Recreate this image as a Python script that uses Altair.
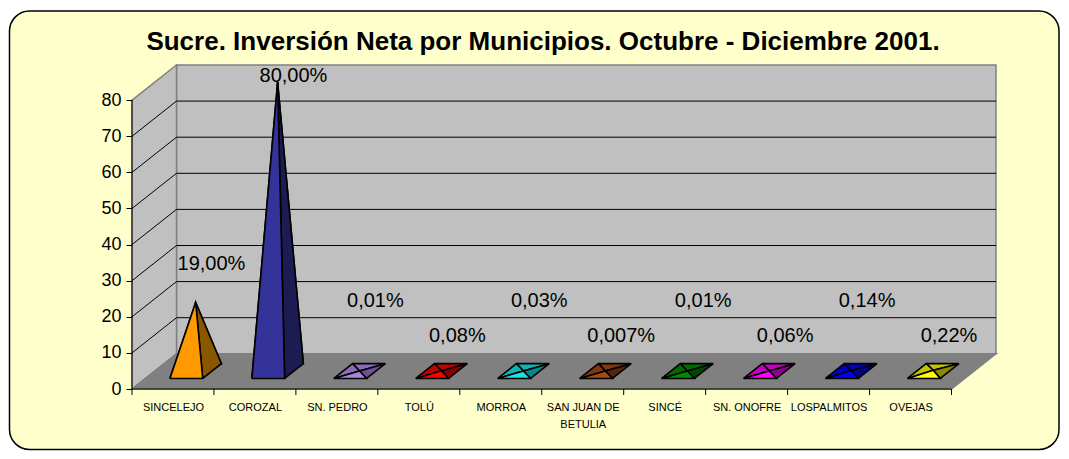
import json
import textwrap
import altair as alt
import pandas as pd

# ---------------- data ----------------
TITLE = "Sucre. Inversión Neta por Municipios. Octubre - Diciembre 2001."
CATEGORIES = ["SINCELEJO", "COROZAL", "SN. PEDRO", "TOLÚ", "MORROA",
              "SAN JUAN DE BETULIA", "SINCÉ", "SN. ONOFRE", "LOSPALMITOS", "OVEJAS"]
VALUES = [19.00, 80.00, 0.01, 0.08, 0.03, 0.007, 0.01, 0.06, 0.14, 0.22]
FRONT_COLORS = ["#FF9900", "#333399", "#A886E0", "#FF0000", "#1FE0E0",
                "#A84A12", "#008A00", "#FF00FF", "#0000FF", "#FFFF00"]
SIDE_COLORS = ["#8A5600", "#1C1C52", "#6E5096", "#8A0000", "#008A8A",
               "#5A2408", "#004A00", "#8A008A", "#00008A", "#8A8A00"]
Y_TICKS = [0, 10, 20, 30, 40, 50, 60, 70, 80]

# ---------------- style / geometry constants ----------------
N = len(CATEGORIES)
YMAX = Y_TICKS[-1]
DX, DY = 0.543, 9.75          # 3-D depth offset (category units, value units)
HALF, F1, F2 = 0.2, 0.3, 0.72  # pyramid half width, front / back depth fraction
LABEL_DX = 0.47
FONT = "Liberation Sans"
W, H = 864, 324

xs = alt.Scale(domain=[0, N + DX], nice=False, zero=False)
ys = alt.Scale(domain=[0, YMAX + DY], nice=False, zero=False)


def mix(c1, c2):
    a = [int(c1[k:k + 2], 16) for k in (1, 3, 5)]
    b = [int(c2[k:k + 2], 16) for k in (1, 3, 5)]
    return "#" + "".join(f"{(p + q) // 2:02X}" for p, q in zip(a, b))


def pct(v):
    s = f"{v:.3f}".rstrip("0")
    whole, frac = s.split(".")
    return f"{whole},{frac.ljust(2, '0')}%"


# walls and floor polygons
def poly(key, pts, fill, stroke):
    return [{"key": key, "ord": j, "x": x, "y": y, "fill": fill, "stroke": stroke}
            for j, (x, y) in enumerate(pts + [pts[0]])]


walls = []
walls += poly("w1_back", [(DX, DY), (N + DX, DY), (N + DX, YMAX + DY), (DX, YMAX + DY)], "#C0C0C0", "#808080")
walls += poly("w2_side", [(0, 0), (0, YMAX), (DX, YMAX + DY), (DX, DY)], "#C0C0C0", "#808080")
walls += poly("w3_floor", [(0, 0), (N, 0), (N + DX, DY), (DX, DY)], "#808080", "#808080")
walls_df = pd.DataFrame(walls)

# grid lines
grid_rows = []
for v in Y_TICKS[1:-1]:
    grid_rows.append({"x": DX, "x2": N + DX, "y": v + DY, "y2": v + DY})
    grid_rows.append({"x": 0, "x2": DX, "y": v, "y2": v + DY})
grid_df = pd.DataFrame(grid_rows)

# pyramids
pyr = []
for i, (v, fc, sc) in enumerate(zip(VALUES, FRONT_COLORS, SIDE_COLORS)):
    cx = i + 0.5

    def P(x, f, h=0.0):
        return (x + f * DX, f * DY + h)

    FL, FR = P(cx - HALF, F1), P(cx + HALF, F1)
    BL, BR = P(cx - HALF, F2), P(cx + HALF, F2)
    A = P(cx, (F1 + F2) / 2, v)
    mc = mix(fc, sc)
    faces = [("a", [BL, BR, A], mc), ("b", [FL, BL, A], mc),
             ("c", [FR, BR, A], sc), ("d", [FL, FR, A], fc)]
    for name, pts, col in faces:
        for j, (x, y) in enumerate(pts + [pts[0]]):
            pyr.append({"key": f"p{i:02d}{name}", "ord": j, "x": x, "y": y, "fill": col})
pyr_df = pd.DataFrame(pyr)

# data labels
lab_rows = []
for i, v in enumerate(VALUES):
    even = i % 2 == 0
    ly = max(v + (15.5 if even else 6.7), 24.5 if even else 14.8)
    lab_rows.append({"x": i + 0.5 + LABEL_DX, "y": ly, "label": pct(v)})
lab_df = pd.DataFrame(lab_rows)

# axis tick marks at category boundaries, axis lines
ticks_df = pd.DataFrame({"t": list(range(N + 1)), "y0": [0] * (N + 1)})
axis_lines_df = pd.DataFrame([
    {"x": 0, "x2": N, "y": 0, "y2": 0},
    {"x": 0, "x2": 0, "y": 0, "y2": YMAX},
])

disp = ["|".join(textwrap.wrap(c, 12)) for c in CATEGORIES]
label_expr = f"split({json.dumps(disp, ensure_ascii=False)}[floor(datum.value)], '|')"

x_axis = alt.Axis(values=[i + 0.5 for i in range(N)], labelExpr=label_expr, ticks=False,
                  domain=False, grid=False, labelFont=FONT, labelFontSize=11,
                  labelColor="black", labelPadding=12, labelLineHeight=17,
                  labelAngle=0, title=None, labelFlush=False, labelOverlap=False,
                  zindex=2)
y_axis = alt.Axis(values=Y_TICKS, tickSize=6, tickColor="black", tickWidth=1,
                  domain=False, grid=False, labelFont=FONT, labelFontSize=18,
                  labelColor="black", labelPadding=5, title=None, labelFlush=False,
                  zindex=2)


def X(field):
    return alt.X(field, scale=xs, axis=x_axis)


def Y(field):
    return alt.Y(field, scale=ys, axis=y_axis)


# ---------------- layers ----------------
frame = alt.Chart(pd.DataFrame({"a": [0]})).mark_rect(
    fill="#FFFFCC", stroke="black", strokeWidth=1.5, cornerRadius=20
).encode(x=alt.value(-122.5), x2=alt.value(927), y=alt.value(-54), y2=alt.value(384.5))

walls_layer = alt.Chart(walls_df).mark_line(strokeWidth=1.5).encode(
    x=X("x:Q"), y=Y("y:Q"),
    detail="key:N",
    order="ord:Q",
    fill=alt.Fill("fill:N", scale=None),
    stroke=alt.Stroke("stroke:N", scale=None),
)

grid_layer = alt.Chart(grid_df).mark_rule(color="black", strokeWidth=1).encode(
    x=X("x:Q"), x2="x2:Q", y=Y("y:Q"), y2="y2:Q",
)

axis_layer = alt.Chart(axis_lines_df).mark_rule(color="black", strokeWidth=1).encode(
    x=X("x:Q"), x2="x2:Q", y=Y("y:Q"), y2="y2:Q",
)

tick_layer = alt.Chart(ticks_df).mark_rule(color="black", strokeWidth=1).encode(
    x=X("t:Q"), y=Y("y0:Q"), y2=alt.value(H + 6),
)

pyr_layer = alt.Chart(pyr_df).mark_line(stroke="black", strokeWidth=1.6).encode(
    x=X("x:Q"), y=Y("y:Q"),
    detail="key:N",
    order="ord:Q",
    fill=alt.Fill("fill:N", scale=None),
)

label_layer = alt.Chart(lab_df).mark_text(
    font=FONT, fontSize=20, color="black", align="center", baseline="middle"
).encode(x=X("x:Q"), y=Y("y:Q"), text="label:N")

title_layer = alt.Chart(pd.DataFrame({"t": [TITLE]})).mark_text(
    font=FONT, fontSize=26, fontWeight="bold", color="black",
    align="center", baseline="alphabetic"
).encode(x=alt.value(411), y=alt.value(-15), text="t:N")

chart = alt.layer(
    frame, walls_layer, grid_layer, axis_layer, tick_layer, pyr_layer, label_layer, title_layer
).properties(
    width=W, height=H,
    autosize=alt.AutoSizeParams(type="none"),
    padding={"left": 124, "top": 57, "right": 65, "bottom": 62},
).configure_view(stroke=None).configure(background="white")

chart.save("out.html", embed_options={"renderer": "svg", "actions": False})
